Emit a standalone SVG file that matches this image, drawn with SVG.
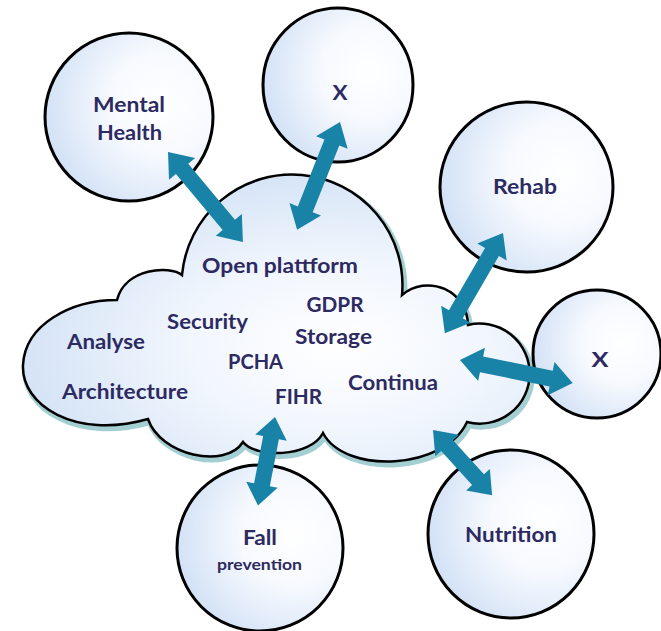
<svg xmlns="http://www.w3.org/2000/svg" width="661" height="631" viewBox="0 0 661 631">
<defs>
<radialGradient id="gc" cx="0.7" cy="0.42" r="0.8">
<stop offset="0" stop-color="#ffffff"/>
<stop offset="0.4" stop-color="#f6f9fe"/>
<stop offset="1" stop-color="#cadcf4"/>
</radialGradient>
<radialGradient id="gcl" cx="0.62" cy="0.6" r="0.75">
<stop offset="0" stop-color="#ffffff"/>
<stop offset="0.4" stop-color="#f1f6fd"/>
<stop offset="1" stop-color="#c9dcf3"/>
</radialGradient>
<style>
.node ellipse{fill:url(#gc);stroke:#000;stroke-width:3}
.t{font-family:Lato,"Open Sans","Liberation Sans",sans-serif;font-weight:bold;font-size:21px;fill:#2d2a62;text-anchor:middle}
.s{font-size:15px}
.arr polygon{fill:#1883a6}
.cloud-shadow{fill:none;stroke:#a3cfd3;stroke-width:6}
.cloud-body{fill:url(#gcl);stroke:#000;stroke-width:2.5}
</style>
</defs>
<rect width="661" height="631" fill="#ffffff"/>

<g id="cloud">
<path class="cloud-shadow" transform="translate(2,3)" d="M117,300 C70,300 25,325 23,365 C21,405 75,440 148,419 C160,455 225,470 243,442 C255,458 310,458 323,433 C345,475 445,470 467,422 A50 50 0 1 0 468,325 A40 40 0 0 0 402,295 A110 110 0 0 0 182,275 C170,265 125,268 117,300 Z"/>
<path class="cloud-body" d="M117,300 C70,300 25,325 23,365 C21,405 75,440 148,419 C160,455 225,470 243,442 C255,458 310,458 323,433 C345,475 445,470 467,422 A50 50 0 1 0 468,325 A40 40 0 0 0 402,295 A110 110 0 0 0 182,275 C170,265 125,268 117,300 Z"/>
<text class="t" x="280" y="273" textLength="156" lengthAdjust="spacingAndGlyphs">Open plattform</text>
<text class="t" x="335" y="312" textLength="57" lengthAdjust="spacingAndGlyphs">GDPR</text>
<text class="t" x="207.5" y="329" textLength="81" lengthAdjust="spacingAndGlyphs">Security</text>
<text class="t" x="333.5" y="344" textLength="77" lengthAdjust="spacingAndGlyphs">Storage</text>
<text class="t" x="106" y="349" textLength="78" lengthAdjust="spacingAndGlyphs">Analyse</text>
<text class="t" x="255.5" y="369" textLength="55" lengthAdjust="spacingAndGlyphs">PCHA</text>
<text class="t" x="393" y="390" textLength="90" lengthAdjust="spacingAndGlyphs">Continua</text>
<text class="t" x="125" y="399" textLength="126" lengthAdjust="spacingAndGlyphs">Architecture</text>
<text class="t" x="298.5" y="404" textLength="47" lengthAdjust="spacingAndGlyphs">FIHR</text>
</g>

<g id="mental-health" class="node">
<ellipse cx="129" cy="117" rx="84" ry="84"/>
<text class="t" x="129" y="112" textLength="72" lengthAdjust="spacingAndGlyphs">Mental</text>
<text class="t" x="129.5" y="140" textLength="65" lengthAdjust="spacingAndGlyphs">Health</text>
</g>
<g id="x-top" class="node">
<ellipse cx="338" cy="85" rx="75" ry="77"/>
<text class="t" x="340" y="100" textLength="15" lengthAdjust="spacingAndGlyphs">X</text>
</g>
<g id="rehab" class="node">
<ellipse cx="526.5" cy="187" rx="86.5" ry="85"/>
<text class="t" x="525" y="194" textLength="64" lengthAdjust="spacingAndGlyphs">Rehab</text>
</g>
<g id="x-right" class="node">
<ellipse cx="597" cy="354" rx="64" ry="64"/>
<text class="t" x="600" y="367" textLength="17" lengthAdjust="spacingAndGlyphs">X</text>
</g>
<g id="nutrition" class="node">
<ellipse cx="511" cy="534" rx="83" ry="84"/>
<text class="t" x="511" y="542" textLength="92" lengthAdjust="spacingAndGlyphs">Nutrition</text>
</g>
<g id="fall-prevention" class="node">
<ellipse cx="260" cy="548" rx="83" ry="83"/>
<text class="t" x="260" y="545" textLength="34" lengthAdjust="spacingAndGlyphs">Fall</text>
<text class="t s" x="259.5" y="570" textLength="85" lengthAdjust="spacingAndGlyphs">prevention</text>
</g>

<g id="connectors" class="arr">
<polygon transform="translate(168,152) rotate(50.2)" points="0,0 22,-17 22,-8 95,-8 95,-17 117,0 95,17 95,8 22,8 22,17"/>
<polygon transform="translate(340,122) rotate(111.7)" points="0,0 22,-17 22,-8 94,-8 94,-17 116,0 94,17 94,8 22,8 22,17"/>
<polygon transform="translate(503,233) rotate(120.1)" points="0,0 22,-17 22,-8 94,-8 94,-17 116,0 94,17 94,8 22,8 22,17"/>
<polygon transform="translate(460,360) rotate(11.5)" points="0,0 22,-17 22,-8 93,-8 93,-17 115,0 93,17 93,8 22,8 22,17"/>
<polygon transform="translate(433,430) rotate(47.8)" points="0,0 21,-16 21,-8 67,-8 67,-16 88,0 67,16 67,8 21,8 21,16"/>
<polygon transform="translate(275,417) rotate(100.9)" points="0,0 21,-16 21,-8 69,-8 69,-16 90,0 69,16 69,8 21,8 21,16"/>
</g>
</svg>
